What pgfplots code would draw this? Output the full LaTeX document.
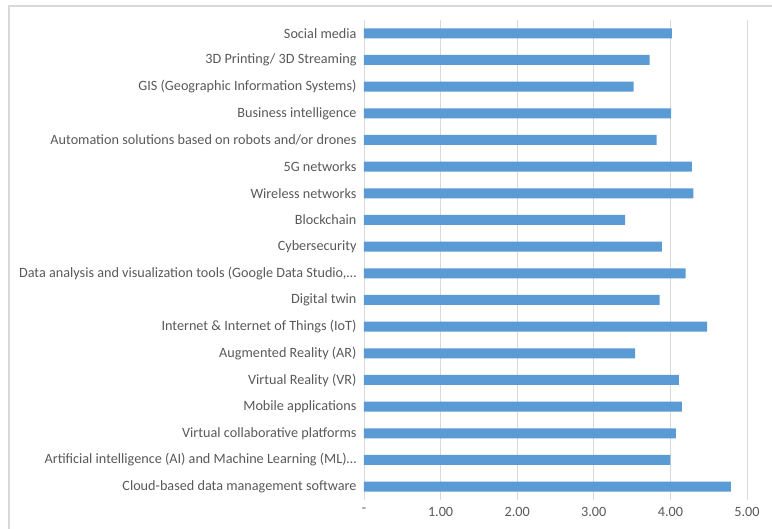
\documentclass[border=0pt]{standalone}
\usepackage{pgfplots}
\pgfplotsset{compat=1.18}
\usepackage{fontspec}
\setmainfont{Carlito}
\definecolor{barblue}{HTML}{5B9BD5}
\definecolor{txtgrey}{HTML}{595959}
\definecolor{gridgrey}{HTML}{D9D9D9}
\begin{document}
\begin{tikzpicture}
\useasboundingbox (-364pt,-29pt) rectangle (408pt,500pt);
\draw[gridgrey, line width=1.2pt] (-355pt,-29pt) -- (-355pt,494pt) -- (408pt,494pt);
\begin{axis}[
  at={(0pt,0pt)}, anchor=south west,
  scale only axis, width=383pt, height=480pt,
  xbar, bar width=10pt,
  xmin=0, xmax=5, ymin=-0.5, ymax=17.5,
  xtick={0,1,2,3,4,5},
  xticklabels={-,1.00,2.00,3.00,4.00,5.00},
  ytick={0,...,17},
  yticklabels={
    Cloud-based data management software,
    Artificial intelligence (AI) and Machine Learning (ML)…,
    Virtual collaborative platforms,
    Mobile applications,
    Virtual Reality (VR),
    Augmented Reality (AR),
    Internet \& Internet of Things (IoT),
    Digital twin,
    {Data analysis and visualization tools (Google Data Studio,…},
    Cybersecurity,
    Blockchain,
    Wireless networks,
    5G networks,
    Automation solutions based on robots and/or drones,
    Business intelligence,
    GIS (Geographic Information Systems),
    3D Printing/ 3D Streaming,
    Social media},
  major tick length=0pt,
  xmajorgrids, grid style={gridgrey, line width=0.8pt},
  axis line style={draw=none},
  tick label style={font=\fontsize{14.2}{16}\selectfont, text=txtgrey},
  yticklabel style={xshift=-4pt},
  xticklabel style={yshift=-4pt},
  /pgf/number format/assume math mode=true,
]
\addplot[fill=barblue, draw=none] coordinates {
(4.79,0) (4.00,1) (4.07,2) (4.15,3) (4.11,4) (3.54,5) (4.48,6) (3.86,7)
(4.20,8) (3.89,9) (3.41,10) (4.30,11) (4.28,12) (3.82,13) (4.01,14)
(3.52,15) (3.73,16) (4.02,17)
};
\end{axis}
\end{tikzpicture}
\end{document}
